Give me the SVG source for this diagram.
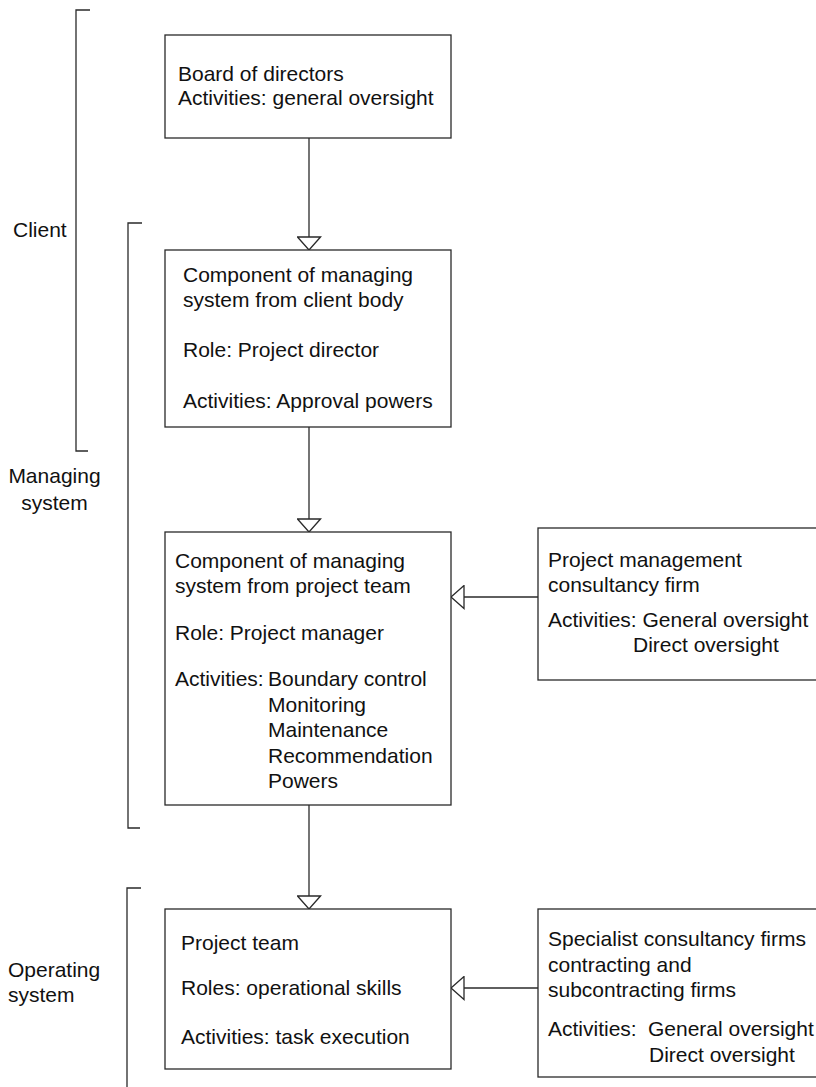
<svg xmlns="http://www.w3.org/2000/svg" width="816" height="1087" viewBox="0 0 816 1087">
  <style>
    .box { fill: #ffffff; stroke: #2a2a2a; stroke-width: 1.3; }
    .line { fill: none; stroke: #2a2a2a; stroke-width: 1.3; }
    text { font-family: "Liberation Sans", Arial, Helvetica, sans-serif; font-size: 21px; fill: #111111; }
  </style>
  <defs>
    <marker id="hollow" viewBox="-1 -1 15 25" refX="13" refY="11.5" markerWidth="15" markerHeight="25" markerUnits="userSpaceOnUse" orient="auto">
      <path d="M0,0 L13,11.5 L0,23 Z" fill="#ffffff" stroke="#2a2a2a" stroke-width="1.3"/>
    </marker>
  </defs>
  <rect x="0" y="0" width="816" height="1087" fill="#ffffff"/>

  <g id="brackets">
    <path class="line" d="M90,10 H76 V451 H88"/>
    <path class="line" d="M142,223 H128 V828 H140"/>
    <path class="line" d="M141,888 H127 V1087"/>
    <text x="13" y="237">Client</text>
    <text x="54.5" y="483" text-anchor="middle">Managing</text>
    <text x="54.5" y="510" text-anchor="middle">system</text>
    <text x="8" y="977">Operating</text>
    <text x="8" y="1002">system</text>
  </g>

  <g id="connectors">
    <path class="line" d="M309,138 V250" marker-end="url(#hollow)"/>
    <path class="line" d="M309,427 V532" marker-end="url(#hollow)"/>
    <path class="line" d="M309,805 V909" marker-end="url(#hollow)"/>
    <path class="line" d="M538,597 H451" marker-end="url(#hollow)"/>
    <path class="line" d="M538,988 H451" marker-end="url(#hollow)"/>
  </g>

  <g id="board">
    <rect class="box" x="165" y="35" width="286" height="103"/>
    <text x="178" y="81">Board of directors</text>
    <text x="178" y="105">Activities: general oversight</text>
  </g>

  <g id="client-component">
    <rect class="box" x="165" y="250" width="286" height="177"/>
    <text x="183" y="282">Component of managing</text>
    <text x="183" y="307">system from client body</text>
    <text x="183" y="357">Role: Project director</text>
    <text x="183" y="408">Activities: Approval powers</text>
  </g>

  <g id="team-component">
    <rect class="box" x="165" y="532" width="286" height="273"/>
    <text x="175" y="568">Component of managing</text>
    <text x="175" y="593">system from project team</text>
    <text x="175" y="640">Role: Project manager</text>
    <text x="175" y="686">Activities:</text>
    <text x="268" y="686">Boundary control</text>
    <text x="268" y="712">Monitoring</text>
    <text x="268" y="737">Maintenance</text>
    <text x="268" y="763">Recommendation</text>
    <text x="268" y="788">Powers</text>
  </g>

  <g id="pm-consultancy">
    <rect class="box" x="538" y="528" width="300" height="152"/>
    <text x="548" y="567">Project management</text>
    <text x="548" y="592">consultancy firm</text>
    <text x="548" y="627">Activities: General oversight</text>
    <text x="633" y="652">Direct oversight</text>
  </g>

  <g id="project-team">
    <rect class="box" x="165" y="909" width="286" height="160"/>
    <text x="181" y="950">Project team</text>
    <text x="181" y="995">Roles: operational skills</text>
    <text x="181" y="1044">Activities: task execution</text>
  </g>

  <g id="specialist-firms">
    <rect class="box" x="538" y="909" width="300" height="168"/>
    <text x="548" y="946">Specialist consultancy firms</text>
    <text x="548" y="972">contracting and</text>
    <text x="548" y="997">subcontracting firms</text>
    <text x="548" y="1036">Activities:</text>
    <text x="648" y="1036">General oversight</text>
    <text x="649" y="1062">Direct oversight</text>
  </g>
</svg>
